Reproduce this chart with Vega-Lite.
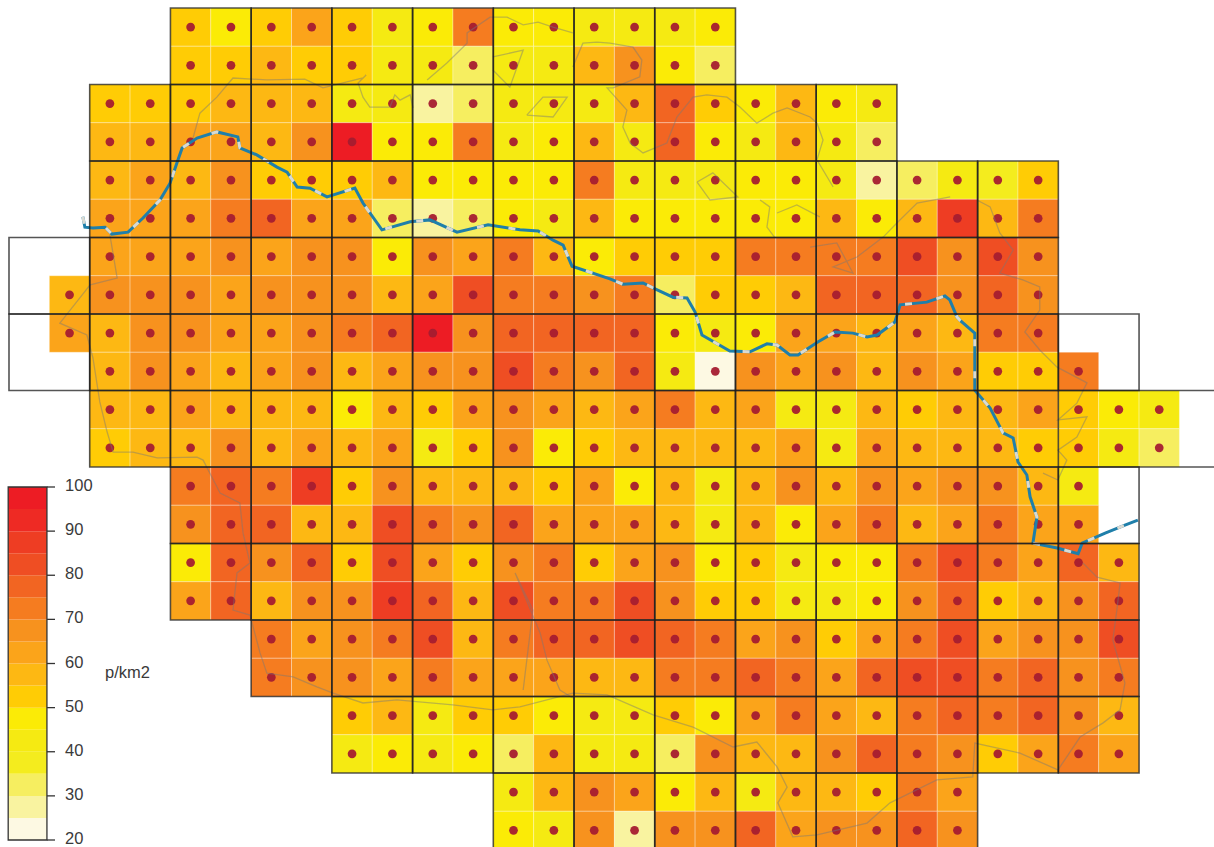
{"$schema":"https://vega.github.io/schema/vega-lite/v6.json","width":1214,"height":847,"padding":0,"autosize":{"type":"none"},"background":"white","config":{"view":{"stroke":null}},
"datasets":{
"cells":[
{"c":4.5,"r":0.5,"v":52},{"c":5.5,"r":0.5,"v":47},{"c":6.5,"r":0.5,"v":52},{"c":7.5,"r":0.5,"v":62},{"c":8.5,"r":0.5,"v":52},{"c":9.5,"r":0.5,"v":43},{"c":10.5,"r":0.5,"v":47},{"c":11.5,"r":0.5,"v":73},{"c":12.5,"r":0.5,"v":47},{"c":13.5,"r":0.5,"v":47},{"c":14.5,"r":0.5,"v":44},{"c":15.5,"r":0.5,"v":44},{"c":16.5,"r":0.5,"v":44},{"c":17.5,"r":0.5,"v":45},
{"c":4.5,"r":1.5,"v":52},{"c":5.5,"r":1.5,"v":51},{"c":6.5,"r":1.5,"v":57},{"c":7.5,"r":1.5,"v":51},{"c":8.5,"r":1.5,"v":52},{"c":9.5,"r":1.5,"v":42},{"c":10.5,"r":1.5,"v":42},{"c":11.5,"r":1.5,"v":32},{"c":12.5,"r":1.5,"v":41},{"c":13.5,"r":1.5,"v":41},{"c":14.5,"r":1.5,"v":58},{"c":15.5,"r":1.5,"v":68},{"c":16.5,"r":1.5,"v":47},{"c":17.5,"r":1.5,"v":33},
{"c":2.5,"r":2.5,"v":53},{"c":3.5,"r":2.5,"v":53},{"c":4.5,"r":2.5,"v":54},{"c":5.5,"r":2.5,"v":57},{"c":6.5,"r":2.5,"v":58},{"c":7.5,"r":2.5,"v":58},{"c":8.5,"r":2.5,"v":42},{"c":9.5,"r":2.5,"v":40},{"c":10.5,"r":2.5,"v":26},{"c":11.5,"r":2.5,"v":31},{"c":12.5,"r":2.5,"v":42},{"c":13.5,"r":2.5,"v":44},{"c":14.5,"r":2.5,"v":42},{"c":15.5,"r":2.5,"v":55},{"c":16.5,"r":2.5,"v":75},{"c":17.5,"r":2.5,"v":54},{"c":18.5,"r":2.5,"v":46},{"c":19.5,"r":2.5,"v":56},{"c":20.5,"r":2.5,"v":47},{"c":21.5,"r":2.5,"v":42},
{"c":2.5,"r":3.5,"v":57},{"c":3.5,"r":3.5,"v":57},{"c":4.5,"r":3.5,"v":63},{"c":5.5,"r":3.5,"v":62},{"c":6.5,"r":3.5,"v":58},{"c":7.5,"r":3.5,"v":68},{"c":8.5,"r":3.5,"v":96},{"c":9.5,"r":3.5,"v":47},{"c":10.5,"r":3.5,"v":47},{"c":11.5,"r":3.5,"v":70},{"c":12.5,"r":3.5,"v":43},{"c":13.5,"r":3.5,"v":46},{"c":14.5,"r":3.5,"v":58},{"c":15.5,"r":3.5,"v":43},{"c":16.5,"r":3.5,"v":75},{"c":17.5,"r":3.5,"v":46},{"c":18.5,"r":3.5,"v":43},{"c":19.5,"r":3.5,"v":59},{"c":20.5,"r":3.5,"v":42},{"c":21.5,"r":3.5,"v":33},
{"c":2.5,"r":4.5,"v":58},{"c":3.5,"r":4.5,"v":64},{"c":4.5,"r":4.5,"v":57},{"c":5.5,"r":4.5,"v":68},{"c":6.5,"r":4.5,"v":53},{"c":7.5,"r":4.5,"v":53},{"c":8.5,"r":4.5,"v":53},{"c":9.5,"r":4.5,"v":58},{"c":10.5,"r":4.5,"v":48},{"c":11.5,"r":4.5,"v":47},{"c":12.5,"r":4.5,"v":47},{"c":13.5,"r":4.5,"v":47},{"c":14.5,"r":4.5,"v":70},{"c":15.5,"r":4.5,"v":44},{"c":16.5,"r":4.5,"v":43},{"c":17.5,"r":4.5,"v":43},{"c":18.5,"r":4.5,"v":46},{"c":19.5,"r":4.5,"v":46},{"c":20.5,"r":4.5,"v":42},{"c":21.5,"r":4.5,"v":27},{"c":22.5,"r":4.5,"v":31},{"c":23.5,"r":4.5,"v":41},{"c":24.5,"r":4.5,"v":38},{"c":25.5,"r":4.5,"v":52},
{"c":2.5,"r":5.5,"v":62},{"c":3.5,"r":5.5,"v":64},{"c":4.5,"r":5.5,"v":60},{"c":5.5,"r":5.5,"v":72},{"c":6.5,"r":5.5,"v":78},{"c":7.5,"r":5.5,"v":63},{"c":8.5,"r":5.5,"v":63},{"c":9.5,"r":5.5,"v":32},{"c":10.5,"r":5.5,"v":27},{"c":11.5,"r":5.5,"v":31},{"c":12.5,"r":5.5,"v":47},{"c":13.5,"r":5.5,"v":44},{"c":14.5,"r":5.5,"v":55},{"c":15.5,"r":5.5,"v":47},{"c":16.5,"r":5.5,"v":47},{"c":17.5,"r":5.5,"v":47},{"c":18.5,"r":5.5,"v":47},{"c":19.5,"r":5.5,"v":46},{"c":20.5,"r":5.5,"v":57},{"c":21.5,"r":5.5,"v":47},{"c":22.5,"r":5.5,"v":58},{"c":23.5,"r":5.5,"v":88},{"c":24.5,"r":5.5,"v":58},{"c":25.5,"r":5.5,"v":73},
{"c":2.5,"r":6.5,"v":60},{"c":3.5,"r":6.5,"v":61},{"c":4.5,"r":6.5,"v":62},{"c":5.5,"r":6.5,"v":68},{"c":6.5,"r":6.5,"v":62},{"c":7.5,"r":6.5,"v":66},{"c":8.5,"r":6.5,"v":65},{"c":9.5,"r":6.5,"v":47},{"c":10.5,"r":6.5,"v":66},{"c":11.5,"r":6.5,"v":63},{"c":12.5,"r":6.5,"v":73},{"c":13.5,"r":6.5,"v":59},{"c":14.5,"r":6.5,"v":47},{"c":15.5,"r":6.5,"v":53},{"c":16.5,"r":6.5,"v":53},{"c":17.5,"r":6.5,"v":52},{"c":18.5,"r":6.5,"v":73},{"c":19.5,"r":6.5,"v":72},{"c":20.5,"r":6.5,"v":70},{"c":21.5,"r":6.5,"v":73},{"c":22.5,"r":6.5,"v":80},{"c":23.5,"r":6.5,"v":68},{"c":24.5,"r":6.5,"v":81},{"c":25.5,"r":6.5,"v":68},
{"c":1.5,"r":7.5,"v":59},{"c":2.5,"r":7.5,"v":66},{"c":3.5,"r":7.5,"v":67},{"c":4.5,"r":7.5,"v":68},{"c":5.5,"r":7.5,"v":62},{"c":6.5,"r":7.5,"v":69},{"c":7.5,"r":7.5,"v":68},{"c":8.5,"r":7.5,"v":66},{"c":9.5,"r":7.5,"v":58},{"c":10.5,"r":7.5,"v":63},{"c":11.5,"r":7.5,"v":80},{"c":12.5,"r":7.5,"v":71},{"c":13.5,"r":7.5,"v":72},{"c":14.5,"r":7.5,"v":66},{"c":15.5,"r":7.5,"v":73},{"c":16.5,"r":7.5,"v":32},{"c":17.5,"r":7.5,"v":53},{"c":18.5,"r":7.5,"v":53},{"c":19.5,"r":7.5,"v":58},{"c":20.5,"r":7.5,"v":78},{"c":21.5,"r":7.5,"v":78},{"c":22.5,"r":7.5,"v":78},{"c":23.5,"r":7.5,"v":68},{"c":24.5,"r":7.5,"v":77},{"c":25.5,"r":7.5,"v":68},
{"c":1.5,"r":8.5,"v":62},{"c":2.5,"r":8.5,"v":57},{"c":3.5,"r":8.5,"v":67},{"c":4.5,"r":8.5,"v":68},{"c":5.5,"r":8.5,"v":63},{"c":6.5,"r":8.5,"v":63},{"c":7.5,"r":8.5,"v":67},{"c":8.5,"r":8.5,"v":73},{"c":9.5,"r":8.5,"v":78},{"c":10.5,"r":8.5,"v":96},{"c":11.5,"r":8.5,"v":68},{"c":12.5,"r":8.5,"v":78},{"c":13.5,"r":8.5,"v":78},{"c":14.5,"r":8.5,"v":78},{"c":15.5,"r":8.5,"v":78},{"c":16.5,"r":8.5,"v":48},{"c":17.5,"r":8.5,"v":42},{"c":18.5,"r":8.5,"v":47},{"c":19.5,"r":8.5,"v":62},{"c":20.5,"r":8.5,"v":60},{"c":21.5,"r":8.5,"v":56},{"c":22.5,"r":8.5,"v":64},{"c":23.5,"r":8.5,"v":58},{"c":24.5,"r":8.5,"v":74},{"c":25.5,"r":8.5,"v":74},
{"c":2.5,"r":9.5,"v":58},{"c":3.5,"r":9.5,"v":68},{"c":4.5,"r":9.5,"v":62},{"c":5.5,"r":9.5,"v":56},{"c":6.5,"r":9.5,"v":63},{"c":7.5,"r":9.5,"v":68},{"c":8.5,"r":9.5,"v":57},{"c":9.5,"r":9.5,"v":60},{"c":10.5,"r":9.5,"v":68},{"c":11.5,"r":9.5,"v":68},{"c":12.5,"r":9.5,"v":81},{"c":13.5,"r":9.5,"v":72},{"c":14.5,"r":9.5,"v":67},{"c":15.5,"r":9.5,"v":78},{"c":16.5,"r":9.5,"v":41},{"c":17.5,"r":9.5,"v":22},{"c":18.5,"r":9.5,"v":68},{"c":19.5,"r":9.5,"v":63},{"c":20.5,"r":9.5,"v":68},{"c":21.5,"r":9.5,"v":58},{"c":22.5,"r":9.5,"v":68},{"c":23.5,"r":9.5,"v":62},{"c":24.5,"r":9.5,"v":52},{"c":25.5,"r":9.5,"v":52},{"c":26.5,"r":9.5,"v":70},
{"c":2.5,"r":10.5,"v":59},{"c":3.5,"r":10.5,"v":58},{"c":4.5,"r":10.5,"v":61},{"c":5.5,"r":10.5,"v":56},{"c":6.5,"r":10.5,"v":56},{"c":7.5,"r":10.5,"v":56},{"c":8.5,"r":10.5,"v":46},{"c":9.5,"r":10.5,"v":56},{"c":10.5,"r":10.5,"v":54},{"c":11.5,"r":10.5,"v":62},{"c":12.5,"r":10.5,"v":69},{"c":13.5,"r":10.5,"v":64},{"c":14.5,"r":10.5,"v":56},{"c":15.5,"r":10.5,"v":63},{"c":16.5,"r":10.5,"v":72},{"c":17.5,"r":10.5,"v":56},{"c":18.5,"r":10.5,"v":62},{"c":19.5,"r":10.5,"v":44},{"c":20.5,"r":10.5,"v":41},{"c":21.5,"r":10.5,"v":58},{"c":22.5,"r":10.5,"v":53},{"c":23.5,"r":10.5,"v":56},{"c":24.5,"r":10.5,"v":58},{"c":25.5,"r":10.5,"v":62},{"c":26.5,"r":10.5,"v":53},{"c":27.5,"r":10.5,"v":47},{"c":28.5,"r":10.5,"v":43},
{"c":2.5,"r":11.5,"v":52},{"c":3.5,"r":11.5,"v":58},{"c":4.5,"r":11.5,"v":58},{"c":5.5,"r":11.5,"v":68},{"c":6.5,"r":11.5,"v":57},{"c":7.5,"r":11.5,"v":62},{"c":8.5,"r":11.5,"v":57},{"c":9.5,"r":11.5,"v":62},{"c":10.5,"r":11.5,"v":44},{"c":11.5,"r":11.5,"v":52},{"c":12.5,"r":11.5,"v":69},{"c":13.5,"r":11.5,"v":47},{"c":14.5,"r":11.5,"v":54},{"c":15.5,"r":11.5,"v":58},{"c":16.5,"r":11.5,"v":57},{"c":17.5,"r":11.5,"v":57},{"c":18.5,"r":11.5,"v":58},{"c":19.5,"r":11.5,"v":63},{"c":20.5,"r":11.5,"v":43},{"c":21.5,"r":11.5,"v":63},{"c":22.5,"r":11.5,"v":58},{"c":23.5,"r":11.5,"v":57},{"c":24.5,"r":11.5,"v":59},{"c":25.5,"r":11.5,"v":53},{"c":26.5,"r":11.5,"v":52},{"c":27.5,"r":11.5,"v":43},{"c":28.5,"r":11.5,"v":33},
{"c":4.5,"r":12.5,"v":72},{"c":5.5,"r":12.5,"v":78},{"c":6.5,"r":12.5,"v":72},{"c":7.5,"r":12.5,"v":86},{"c":8.5,"r":12.5,"v":52},{"c":9.5,"r":12.5,"v":67},{"c":10.5,"r":12.5,"v":57},{"c":11.5,"r":12.5,"v":58},{"c":12.5,"r":12.5,"v":56},{"c":13.5,"r":12.5,"v":53},{"c":14.5,"r":12.5,"v":63},{"c":15.5,"r":12.5,"v":47},{"c":16.5,"r":12.5,"v":56},{"c":17.5,"r":12.5,"v":43},{"c":18.5,"r":12.5,"v":58},{"c":19.5,"r":12.5,"v":68},{"c":20.5,"r":12.5,"v":56},{"c":21.5,"r":12.5,"v":68},{"c":22.5,"r":12.5,"v":63},{"c":23.5,"r":12.5,"v":68},{"c":24.5,"r":12.5,"v":65},{"c":25.5,"r":12.5,"v":59},{"c":26.5,"r":12.5,"v":43},
{"c":4.5,"r":13.5,"v":66},{"c":5.5,"r":13.5,"v":77},{"c":6.5,"r":13.5,"v":76},{"c":7.5,"r":13.5,"v":59},{"c":8.5,"r":13.5,"v":57},{"c":9.5,"r":13.5,"v":81},{"c":10.5,"r":13.5,"v":72},{"c":11.5,"r":13.5,"v":68},{"c":12.5,"r":13.5,"v":78},{"c":13.5,"r":13.5,"v":61},{"c":14.5,"r":13.5,"v":63},{"c":15.5,"r":13.5,"v":62},{"c":16.5,"r":13.5,"v":58},{"c":17.5,"r":13.5,"v":43},{"c":18.5,"r":13.5,"v":58},{"c":19.5,"r":13.5,"v":47},{"c":20.5,"r":13.5,"v":62},{"c":21.5,"r":13.5,"v":74},{"c":22.5,"r":13.5,"v":58},{"c":23.5,"r":13.5,"v":61},{"c":24.5,"r":13.5,"v":74},{"c":25.5,"r":13.5,"v":62},{"c":26.5,"r":13.5,"v":62},
{"c":4.5,"r":14.5,"v":46},{"c":5.5,"r":14.5,"v":78},{"c":6.5,"r":14.5,"v":67},{"c":7.5,"r":14.5,"v":77},{"c":8.5,"r":14.5,"v":52},{"c":9.5,"r":14.5,"v":80},{"c":10.5,"r":14.5,"v":61},{"c":11.5,"r":14.5,"v":51},{"c":12.5,"r":14.5,"v":66},{"c":13.5,"r":14.5,"v":72},{"c":14.5,"r":14.5,"v":53},{"c":15.5,"r":14.5,"v":62},{"c":16.5,"r":14.5,"v":66},{"c":17.5,"r":14.5,"v":46},{"c":18.5,"r":14.5,"v":52},{"c":19.5,"r":14.5,"v":44},{"c":20.5,"r":14.5,"v":47},{"c":21.5,"r":14.5,"v":46},{"c":22.5,"r":14.5,"v":74},{"c":23.5,"r":14.5,"v":81},{"c":24.5,"r":14.5,"v":72},{"c":25.5,"r":14.5,"v":61},{"c":26.5,"r":14.5,"v":78},{"c":27.5,"r":14.5,"v":58},
{"c":4.5,"r":15.5,"v":62},{"c":5.5,"r":15.5,"v":78},{"c":6.5,"r":15.5,"v":55},{"c":7.5,"r":15.5,"v":67},{"c":8.5,"r":15.5,"v":65},{"c":9.5,"r":15.5,"v":87},{"c":10.5,"r":15.5,"v":78},{"c":11.5,"r":15.5,"v":56},{"c":12.5,"r":15.5,"v":80},{"c":13.5,"r":15.5,"v":73},{"c":14.5,"r":15.5,"v":73},{"c":15.5,"r":15.5,"v":82},{"c":16.5,"r":15.5,"v":67},{"c":17.5,"r":15.5,"v":52},{"c":18.5,"r":15.5,"v":53},{"c":19.5,"r":15.5,"v":43},{"c":20.5,"r":15.5,"v":43},{"c":21.5,"r":15.5,"v":47},{"c":22.5,"r":15.5,"v":67},{"c":23.5,"r":15.5,"v":77},{"c":24.5,"r":15.5,"v":52},{"c":25.5,"r":15.5,"v":56},{"c":26.5,"r":15.5,"v":67},{"c":27.5,"r":15.5,"v":78},
{"c":6.5,"r":16.5,"v":72},{"c":7.5,"r":16.5,"v":64},{"c":8.5,"r":16.5,"v":67},{"c":9.5,"r":16.5,"v":74},{"c":10.5,"r":16.5,"v":81},{"c":11.5,"r":16.5,"v":59},{"c":12.5,"r":16.5,"v":73},{"c":13.5,"r":16.5,"v":78},{"c":14.5,"r":16.5,"v":75},{"c":15.5,"r":16.5,"v":82},{"c":16.5,"r":16.5,"v":79},{"c":17.5,"r":16.5,"v":73},{"c":18.5,"r":16.5,"v":63},{"c":19.5,"r":16.5,"v":68},{"c":20.5,"r":16.5,"v":52},{"c":21.5,"r":16.5,"v":62},{"c":22.5,"r":16.5,"v":74},{"c":23.5,"r":16.5,"v":82},{"c":24.5,"r":16.5,"v":61},{"c":25.5,"r":16.5,"v":67},{"c":26.5,"r":16.5,"v":68},{"c":27.5,"r":16.5,"v":81},
{"c":6.5,"r":17.5,"v":73},{"c":7.5,"r":17.5,"v":65},{"c":8.5,"r":17.5,"v":68},{"c":9.5,"r":17.5,"v":60},{"c":10.5,"r":17.5,"v":73},{"c":11.5,"r":17.5,"v":62},{"c":12.5,"r":17.5,"v":61},{"c":13.5,"r":17.5,"v":62},{"c":14.5,"r":17.5,"v":56},{"c":15.5,"r":17.5,"v":56},{"c":16.5,"r":17.5,"v":73},{"c":17.5,"r":17.5,"v":73},{"c":18.5,"r":17.5,"v":78},{"c":19.5,"r":17.5,"v":73},{"c":20.5,"r":17.5,"v":62},{"c":21.5,"r":17.5,"v":78},{"c":22.5,"r":17.5,"v":83},{"c":23.5,"r":17.5,"v":83},{"c":24.5,"r":17.5,"v":74},{"c":25.5,"r":17.5,"v":78},{"c":26.5,"r":17.5,"v":67},{"c":27.5,"r":17.5,"v":74},
{"c":8.5,"r":18.5,"v":52},{"c":9.5,"r":18.5,"v":56},{"c":10.5,"r":18.5,"v":43},{"c":11.5,"r":18.5,"v":53},{"c":12.5,"r":18.5,"v":53},{"c":13.5,"r":18.5,"v":47},{"c":14.5,"r":18.5,"v":43},{"c":15.5,"r":18.5,"v":43},{"c":16.5,"r":18.5,"v":52},{"c":17.5,"r":18.5,"v":47},{"c":18.5,"r":18.5,"v":62},{"c":19.5,"r":18.5,"v":73},{"c":20.5,"r":18.5,"v":62},{"c":21.5,"r":18.5,"v":57},{"c":22.5,"r":18.5,"v":74},{"c":23.5,"r":18.5,"v":77},{"c":24.5,"r":18.5,"v":73},{"c":25.5,"r":18.5,"v":75},{"c":26.5,"r":18.5,"v":67},{"c":27.5,"r":18.5,"v":55},
{"c":8.5,"r":19.5,"v":43},{"c":9.5,"r":19.5,"v":47},{"c":10.5,"r":19.5,"v":44},{"c":11.5,"r":19.5,"v":47},{"c":12.5,"r":19.5,"v":33},{"c":13.5,"r":19.5,"v":58},{"c":14.5,"r":19.5,"v":43},{"c":15.5,"r":19.5,"v":43},{"c":16.5,"r":19.5,"v":33},{"c":17.5,"r":19.5,"v":67},{"c":18.5,"r":19.5,"v":59},{"c":19.5,"r":19.5,"v":57},{"c":20.5,"r":19.5,"v":67},{"c":21.5,"r":19.5,"v":78},{"c":22.5,"r":19.5,"v":70},{"c":23.5,"r":19.5,"v":66},{"c":24.5,"r":19.5,"v":52},{"c":25.5,"r":19.5,"v":62},{"c":26.5,"r":19.5,"v":71},{"c":27.5,"r":19.5,"v":63},
{"c":12.5,"r":20.5,"v":43},{"c":13.5,"r":20.5,"v":59},{"c":14.5,"r":20.5,"v":67},{"c":15.5,"r":20.5,"v":62},{"c":16.5,"r":20.5,"v":47},{"c":17.5,"r":20.5,"v":59},{"c":18.5,"r":20.5,"v":43},{"c":19.5,"r":20.5,"v":57},{"c":20.5,"r":20.5,"v":57},{"c":21.5,"r":20.5,"v":53},{"c":22.5,"r":20.5,"v":70},{"c":23.5,"r":20.5,"v":63},
{"c":12.5,"r":21.5,"v":47},{"c":13.5,"r":21.5,"v":43},{"c":14.5,"r":21.5,"v":67},{"c":15.5,"r":21.5,"v":27},{"c":16.5,"r":21.5,"v":67},{"c":17.5,"r":21.5,"v":66},{"c":18.5,"r":21.5,"v":77},{"c":19.5,"r":21.5,"v":63},{"c":20.5,"r":21.5,"v":68},{"c":21.5,"r":21.5,"v":66},{"c":22.5,"r":21.5,"v":78},{"c":23.5,"r":21.5,"v":67}
],
"blocks":[
{"c":5,"r":1},{"c":7,"r":1},{"c":9,"r":1},{"c":11,"r":1},{"c":13,"r":1},{"c":15,"r":1},{"c":17,"r":1},
{"c":3,"r":3},{"c":5,"r":3},{"c":7,"r":3},{"c":9,"r":3},{"c":11,"r":3},{"c":13,"r":3},{"c":15,"r":3},{"c":17,"r":3},{"c":19,"r":3},{"c":21,"r":3},
{"c":3,"r":5},{"c":5,"r":5},{"c":7,"r":5},{"c":9,"r":5},{"c":11,"r":5},{"c":13,"r":5},{"c":15,"r":5},{"c":17,"r":5},{"c":19,"r":5},{"c":21,"r":5},{"c":23,"r":5},{"c":25,"r":5},
{"c":1,"r":7},{"c":3,"r":7},{"c":5,"r":7},{"c":7,"r":7},{"c":9,"r":7},{"c":11,"r":7},{"c":13,"r":7},{"c":15,"r":7},{"c":17,"r":7},{"c":19,"r":7},{"c":21,"r":7},{"c":23,"r":7},{"c":25,"r":7},
{"c":1,"r":9},{"c":3,"r":9},{"c":5,"r":9},{"c":7,"r":9},{"c":9,"r":9},{"c":11,"r":9},{"c":13,"r":9},{"c":15,"r":9},{"c":17,"r":9},{"c":19,"r":9},{"c":21,"r":9},{"c":23,"r":9},{"c":25,"r":9},{"c":27,"r":9},
{"c":3,"r":11},{"c":5,"r":11},{"c":7,"r":11},{"c":9,"r":11},{"c":11,"r":11},{"c":13,"r":11},{"c":15,"r":11},{"c":17,"r":11},{"c":19,"r":11},{"c":21,"r":11},{"c":23,"r":11},{"c":25,"r":11},
{"c":5,"r":13},{"c":7,"r":13},{"c":9,"r":13},{"c":11,"r":13},{"c":13,"r":13},{"c":15,"r":13},{"c":17,"r":13},{"c":19,"r":13},{"c":21,"r":13},{"c":23,"r":13},{"c":25,"r":13},{"c":27,"r":13},
{"c":5,"r":15},{"c":7,"r":15},{"c":9,"r":15},{"c":11,"r":15},{"c":13,"r":15},{"c":15,"r":15},{"c":17,"r":15},{"c":19,"r":15},{"c":21,"r":15},{"c":23,"r":15},{"c":25,"r":15},{"c":27,"r":15},
{"c":7,"r":17},{"c":9,"r":17},{"c":11,"r":17},{"c":13,"r":17},{"c":15,"r":17},{"c":17,"r":17},{"c":19,"r":17},{"c":21,"r":17},{"c":23,"r":17},{"c":25,"r":17},{"c":27,"r":17},
{"c":9,"r":19},{"c":11,"r":19},{"c":13,"r":19},{"c":15,"r":19},{"c":17,"r":19},{"c":19,"r":19},{"c":21,"r":19},{"c":23,"r":19},{"c":25,"r":19},{"c":27,"r":19},
{"c":13,"r":21},{"c":15,"r":21},{"c":17,"r":21},{"c":19,"r":21},{"c":21,"r":21},{"c":23,"r":21}
],
"edges":[{"a":26,"b":29.86,"r":10},{"a":26,"b":29.86,"r":12}],
"river":[{"x":1.83,"y":5.46},{"x":1.88,"y":5.73},{"x":2.08,"y":5.75},{"x":2.38,"y":5.73},{"x":2.55,"y":5.91},{"x":2.95,"y":5.86},{"x":3.32,"y":5.49},{"x":3.74,"y":5.02},{"x":3.99,"y":4.58},{"x":4.16,"y":4.05},{"x":4.29,"y":3.66},{"x":4.66,"y":3.4},{"x":5.15,"y":3.24},{"x":5.67,"y":3.37},{"x":5.72,"y":3.66},{"x":6.14,"y":3.84},{"x":6.64,"y":4.16},{"x":6.89,"y":4.29},{"x":7.14,"y":4.68},{"x":7.46,"y":4.71},{"x":7.88,"y":4.94},{"x":8.57,"y":4.71},{"x":8.77,"y":5.1},{"x":9.24,"y":5.8},{"x":9.94,"y":5.59},{"x":10.43,"y":5.54},{"x":11.1,"y":5.86},{"x":11.87,"y":5.67},{"x":12.66,"y":5.8},{"x":13.11,"y":5.83},{"x":13.48,"y":6.07},{"x":13.73,"y":6.2},{"x":13.95,"y":6.75},{"x":14.89,"y":7.08},{"x":15.21,"y":7.22},{"x":15.71,"y":7.19},{"x":16.06,"y":7.37},{"x":16.45,"y":7.56},{"x":16.8,"y":7.58},{"x":17,"y":7.95},{"x":17.17,"y":8.55},{"x":17.86,"y":8.97},{"x":18.36,"y":8.99},{"x":18.78,"y":8.78},{"x":19.03,"y":8.81},{"x":19.35,"y":9.07},{"x":19.55,"y":9.07},{"x":20.04,"y":8.73},{"x":20.47,"y":8.47},{"x":20.91,"y":8.5},{"x":21.26,"y":8.6},{"x":21.51,"y":8.55},{"x":21.95,"y":8.21},{"x":22.08,"y":7.76},{"x":22.74,"y":7.69},{"x":23.19,"y":7.53},{"x":23.31,"y":7.63},{"x":23.49,"y":8.08},{"x":23.56,"y":8.16},{"x":23.93,"y":8.5},{"x":23.93,"y":9.02},{"x":23.93,"y":9.99},{"x":24.31,"y":10.46},{"x":24.63,"y":11.11},{"x":24.88,"y":11.24},{"x":25,"y":11.87},{"x":25.22,"y":12.21},{"x":25.3,"y":12.78},{"x":25.47,"y":13.31},{"x":25.37,"y":13.99},{"x":25.97,"y":14.12},{"x":26.49,"y":14.27},{"x":26.59,"y":13.99},{"x":27.16,"y":13.73},{"x":27.65,"y":13.52},{"x":27.97,"y":13.39}],
"coast":[
{"g":1,"x":4.56,"y":3.4},{"g":1,"x":4.73,"y":2.75},{"g":1,"x":5.15,"y":2.33},{"g":1,"x":5.55,"y":1.83},{"g":1,"x":6.39,"y":1.88},{"g":1,"x":7.33,"y":1.86},{"g":1,"x":7.78,"y":2.09},{"g":1,"x":8.77,"y":1.83},{"g":1,"x":8.85,"y":1.75},{"g":1,"x":8.65,"y":1.96},{"g":1,"x":8.77,"y":2.33},{"g":1,"x":8.94,"y":2.59},{"g":1,"x":9.44,"y":2.59},{"g":1,"x":9.56,"y":2.27},{"g":1,"x":9.69,"y":2.41},{"g":1,"x":9.94,"y":2.27},{"g":1,"x":10.01,"y":2.61},
{"g":2,"x":10.36,"y":1.88},{"g":2,"x":10.85,"y":1.44},{"g":2,"x":11.35,"y":0.92},{"g":2,"x":11.35,"y":0.65},{"g":2,"x":11.92,"y":0.24},{"g":2,"x":12.34,"y":0.24},{"g":2,"x":12.74,"y":0.44},{"g":2,"x":13.11,"y":0.37},{"g":2,"x":13.48,"y":0.5},{"g":2,"x":13.97,"y":0.65},
{"g":3,"x":13.97,"y":1.54},{"g":3,"x":14.22,"y":0.92},{"g":3,"x":14.57,"y":0.89},{"g":3,"x":14.89,"y":0.92},{"g":3,"x":15.46,"y":1.02},{"g":3,"x":15.68,"y":1.36},{"g":3,"x":15.63,"y":1.8},{"g":3,"x":14.97,"y":2.09},{"g":3,"x":14.82,"y":2.09},{"g":3,"x":15.31,"y":2.67},{"g":3,"x":15.21,"y":3.11},{"g":3,"x":15.39,"y":3.53},{"g":3,"x":15.71,"y":3.79},{"g":3,"x":16.3,"y":3.53},{"g":3,"x":16.55,"y":2.85},{"g":3,"x":16.95,"y":2.33},{"g":3,"x":17.29,"y":2.27},{"g":3,"x":17.79,"y":2.33},{"g":3,"x":18.11,"y":2.59},{"g":3,"x":18.53,"y":3.01},{"g":3,"x":18.93,"y":2.75},{"g":3,"x":19.28,"y":2.61},{"g":3,"x":19.85,"y":2.85},{"g":3,"x":20.02,"y":3.01},{"g":3,"x":20.17,"y":3.45},{"g":3,"x":20.02,"y":3.97},{"g":3,"x":20.42,"y":4.68},
{"g":4,"x":12.83,"y":2.8},{"g":4,"x":13.23,"y":2.33},{"g":4,"x":13.83,"y":2.33},{"g":4,"x":13.48,"y":2.85},{"g":4,"x":12.83,"y":2.8},
{"g":5,"x":17.05,"y":4.55},{"g":5,"x":17.44,"y":4.31},{"g":5,"x":18.06,"y":4.94},{"g":5,"x":17.37,"y":5.02},{"g":5,"x":17.05,"y":4.55},
{"g":6,"x":11.99,"y":1.28},{"g":6,"x":12.74,"y":1.1},{"g":6,"x":12.41,"y":2.07},{"g":6,"x":11.99,"y":1.62},
{"g":7,"x":18.61,"y":5.02},{"g":7,"x":18.85,"y":5.2},{"g":7,"x":18.78,"y":5.73},{"g":7,"x":18.98,"y":6.01},
{"g":12,"x":19.03,"y":5.36},{"g":12,"x":19.52,"y":5.15},{"g":12,"x":20.09,"y":5.46},
{"g":8,"x":19.85,"y":6.25},{"g":8,"x":20.51,"y":6.14},{"g":8,"x":20.91,"y":6.93},{"g":8,"x":20.42,"y":6.77},{"g":8,"x":21.01,"y":6.51},{"g":8,"x":21.66,"y":5.99},{"g":8,"x":22,"y":5.62},{"g":8,"x":22.5,"y":5.1},{"g":8,"x":23.32,"y":4.94},
{"g":9,"x":23.98,"y":5.02},{"g":9,"x":24.31,"y":5.2},{"g":9,"x":24.55,"y":5.88},{"g":9,"x":24.88,"y":6.33},{"g":9,"x":24.55,"y":6.93},{"g":9,"x":25.12,"y":7.11},{"g":9,"x":25.54,"y":7.29},{"g":9,"x":25.54,"y":7.9},{"g":9,"x":25.17,"y":8.47},{"g":9,"x":25.54,"y":8.94},{"g":9,"x":25.97,"y":9.39},{"g":9,"x":26.71,"y":9.8},{"g":9,"x":26.46,"y":10.33},{"g":9,"x":25.99,"y":10.77},{"g":9,"x":26.71,"y":10.69},{"g":9,"x":26.46,"y":11.22},{"g":9,"x":25.99,"y":11.56},{"g":9,"x":26.21,"y":11.82},{"g":9,"x":25.99,"y":12.34},{"g":9,"x":25.62,"y":12.16},
{"g":10,"x":2.5,"y":5.93},{"g":10,"x":2.68,"y":7.06},{"g":10,"x":2.01,"y":7.24},{"g":10,"x":1.26,"y":8.24},{"g":10,"x":1.93,"y":8.55},{"g":10,"x":2.08,"y":9.15},{"g":10,"x":2.25,"y":10.3},{"g":10,"x":2.43,"y":11.08},{"g":10,"x":2.58,"y":11.61},{"g":10,"x":3.07,"y":11.61},{"g":10,"x":3.67,"y":11.76},{"g":10,"x":4.66,"y":11.74},{"g":10,"x":4.81,"y":11.82},{"g":10,"x":5.23,"y":12.68},{"g":10,"x":5.72,"y":12.94},{"g":10,"x":5.8,"y":13.73},{"g":10,"x":5.97,"y":14.51},{"g":10,"x":5.65,"y":14.77},{"g":10,"x":5.55,"y":15.74},{"g":10,"x":5.97,"y":15.87},{"g":10,"x":6.22,"y":16.86},{"g":10,"x":6.39,"y":17.39},{"g":10,"x":7.04,"y":17.49},{"g":10,"x":7.63,"y":17.75},{"g":10,"x":8.03,"y":17.91},{"g":10,"x":8.77,"y":18.17},{"g":10,"x":9.61,"y":18.09},{"g":10,"x":11,"y":18.22},{"g":10,"x":11.99,"y":18.35},{"g":10,"x":12.66,"y":18.27},{"g":10,"x":13.97,"y":17.91},{"g":10,"x":14.82,"y":17.96},{"g":10,"x":15.96,"y":18.48},{"g":10,"x":16.95,"y":18.8},{"g":10,"x":17.94,"y":19.32},{"g":10,"x":18.53,"y":19.19},{"g":10,"x":19.03,"y":19.84},{"g":10,"x":19.28,"y":20.37},{"g":10,"x":19.05,"y":20.78},{"g":10,"x":19.42,"y":21.67},{"g":10,"x":20.02,"y":21.62},{"g":10,"x":21.26,"y":21.31},{"g":10,"x":21.83,"y":20.78},{"g":10,"x":22.99,"y":20.18},{"g":10,"x":23.88,"y":20.1},{"g":10,"x":23.93,"y":19.22},{"g":10,"x":25.05,"y":19.48},{"g":10,"x":25.99,"y":19.92},{"g":10,"x":26.54,"y":19.06},{"g":10,"x":27.11,"y":18.69},{"g":10,"x":27.53,"y":18.35},{"g":10,"x":27.65,"y":17.65},{"g":10,"x":27.35,"y":16.52},{"g":10,"x":27.45,"y":15.74},{"g":10,"x":27.53,"y":15.03},{"g":10,"x":26.96,"y":14.88},{"g":10,"x":26.61,"y":14.51},
{"g":11,"x":12.74,"y":17.83},{"g":11,"x":12.98,"y":15.74},{"g":11,"x":12.54,"y":14.77},{"g":11,"x":13.16,"y":16.34},{"g":11,"x":13.33,"y":17.05},{"g":11,"x":13.65,"y":17.83},{"g":11,"x":13.97,"y":18.04}
],
"bins":[{"lo":20,"hi":25},{"lo":25,"hi":30},{"lo":30,"hi":35},{"lo":35,"hi":40},{"lo":40,"hi":45},{"lo":45,"hi":50},{"lo":50,"hi":55},{"lo":55,"hi":60},{"lo":60,"hi":65},{"lo":65,"hi":70},{"lo":70,"hi":75},{"lo":75,"hi":80},{"lo":80,"hi":85},{"lo":85,"hi":90},{"lo":90,"hi":95},{"lo":95,"hi":100}],
"ticks":[{"t":20,"a":0.94,"b":1.14,"lx":1.39},{"t":30,"a":0.94,"b":1.14,"lx":1.39},{"t":40,"a":0.94,"b":1.14,"lx":1.39},{"t":50,"a":0.94,"b":1.14,"lx":1.39},{"t":60,"a":0.94,"b":1.14,"lx":1.39},{"t":70,"a":0.94,"b":1.14,"lx":1.39},{"t":80,"a":0.94,"b":1.14,"lx":1.39},{"t":90,"a":0.94,"b":1.14,"lx":1.39},{"t":100,"a":0.94,"b":1.14,"lx":1.39}],
"frame":[{"a":-0.02,"b":0.94,"lo":20,"hi":100}],
"unit":[{"lx":2.38,"t":57.8,"label":"p/km2"}]
},
"resolve":{"scale":{"y":"independent"}},
"layer":[
{"layer":[
{"data":{"name":"cells"},"mark":{"type":"rect","width":40.36,"height":38.25,"stroke":"#ffffff","strokeOpacity":0.3,"strokeWidth":1},"encoding":{"x":{"field":"c","type":"quantitative","scale":{"domain":[-0.223,29.857],"nice":false,"zero":false},"axis":null},"y":{"field":"r","type":"quantitative","scale":{"domain":[-0.209,21.935],"range":[0,847],"nice":false,"zero":false},"axis":null},"color":{"field":"v","type":"quantitative","legend":null,"scale":{"type":"threshold","domain":[25,30,35,40,45,50,55,60,65,70,75,80,85,90,95],"range":["#FDF9E3","#F9F3A0","#F6EE60","#F4EC1E","#F5EA12","#FBEB06","#FFCC05","#FDB813","#FBA41A","#F7921E","#F57C20","#F26522","#EF4E23","#EE3D23","#EE2A24","#ED1C24"]}}}},
{"data":{"name":"cells"},"mark":{"type":"circle","size":76,"color":"#A51C30","opacity":0.95},"encoding":{"x":{"field":"c","type":"quantitative","axis":null},"y":{"field":"r","type":"quantitative","axis":null}}},
{"data":{"name":"coast"},"mark":{"type":"line","color":"#777777","opacity":0.45,"strokeWidth":1.3,"clip":true},"encoding":{"x":{"field":"x","type":"quantitative","axis":null},"y":{"field":"y","type":"quantitative","axis":null},"detail":{"field":"g"},"order":{"value":null}}},
{"data":{"name":"river"},"mark":{"type":"line","color":"#1F7FAA","strokeWidth":3,"clip":true},"encoding":{"x":{"field":"x","type":"quantitative","axis":null},"y":{"field":"y","type":"quantitative","axis":null},"order":{"value":null}}},
{"data":{"name":"river"},"mark":{"type":"line","color":"#DADAD2","strokeWidth":3,"strokeDash":[7,25],"clip":true},"encoding":{"x":{"field":"x","type":"quantitative","axis":null},"y":{"field":"y","type":"quantitative","axis":null},"order":{"value":null}}},
{"data":{"name":"blocks"},"mark":{"type":"rect","width":80.72,"height":76.5,"fill":null,"fillOpacity":0,"stroke":"#1c1c1c","strokeOpacity":0.75,"strokeWidth":1.6,"clip":true},"encoding":{"x":{"field":"c","type":"quantitative","axis":null},"y":{"field":"r","type":"quantitative","axis":null}}},
{"data":{"name":"edges"},"mark":{"type":"rule","color":"#1c1c1c","opacity":0.75,"strokeWidth":1.6},"encoding":{"x":{"field":"a","type":"quantitative","axis":null},"x2":{"field":"b"},"y":{"field":"r","type":"quantitative","axis":null}}}
]},
{"layer":[
{"data":{"name":"bins"},"mark":{"type":"rect"},"encoding":{"x":{"datum":-0.02,"type":"quantitative","axis":null},"x2":{"datum":0.94},"y":{"field":"lo","type":"quantitative","scale":{"domain":[20,100],"range":[840,487],"nice":false,"zero":false},"axis":null},"y2":{"field":"hi"},"color":{"field":"lo","type":"quantitative","legend":null,"scale":{"type":"threshold","domain":[25,30,35,40,45,50,55,60,65,70,75,80,85,90,95],"range":["#FDF9E3","#F9F3A0","#F6EE60","#F4EC1E","#F5EA12","#FBEB06","#FFCC05","#FDB813","#FBA41A","#F7921E","#F57C20","#F26522","#EF4E23","#EE3D23","#EE2A24","#ED1C24"]}}}},
{"data":{"name":"frame"},"mark":{"type":"rect","fill":null,"fillOpacity":0,"stroke":"#333333","strokeWidth":1.3},"encoding":{"x":{"field":"a","type":"quantitative","axis":null},"x2":{"field":"b"},"y":{"field":"lo","type":"quantitative","axis":null},"y2":{"field":"hi"}}},
{"data":{"name":"ticks"},"mark":{"type":"rule","color":"#333333","strokeWidth":1.3},"encoding":{"x":{"field":"a","type":"quantitative","axis":null},"x2":{"field":"b"},"y":{"field":"t","type":"quantitative","axis":null}}},
{"data":{"name":"ticks"},"mark":{"type":"text","align":"left","baseline":"middle","dy":-1,"font":"Liberation Sans","fontSize":16.5,"color":"#3a3a3a"},"encoding":{"x":{"field":"lx","type":"quantitative","axis":null},"y":{"field":"t","type":"quantitative","axis":null},"text":{"field":"t","type":"quantitative"}}},
{"data":{"name":"unit"},"mark":{"type":"text","align":"left","baseline":"middle","font":"Liberation Sans","fontSize":16.5,"color":"#3a3a3a"},"encoding":{"x":{"field":"lx","type":"quantitative","axis":null},"y":{"field":"t","type":"quantitative","axis":null},"text":{"field":"label"}}}
]}
]}
